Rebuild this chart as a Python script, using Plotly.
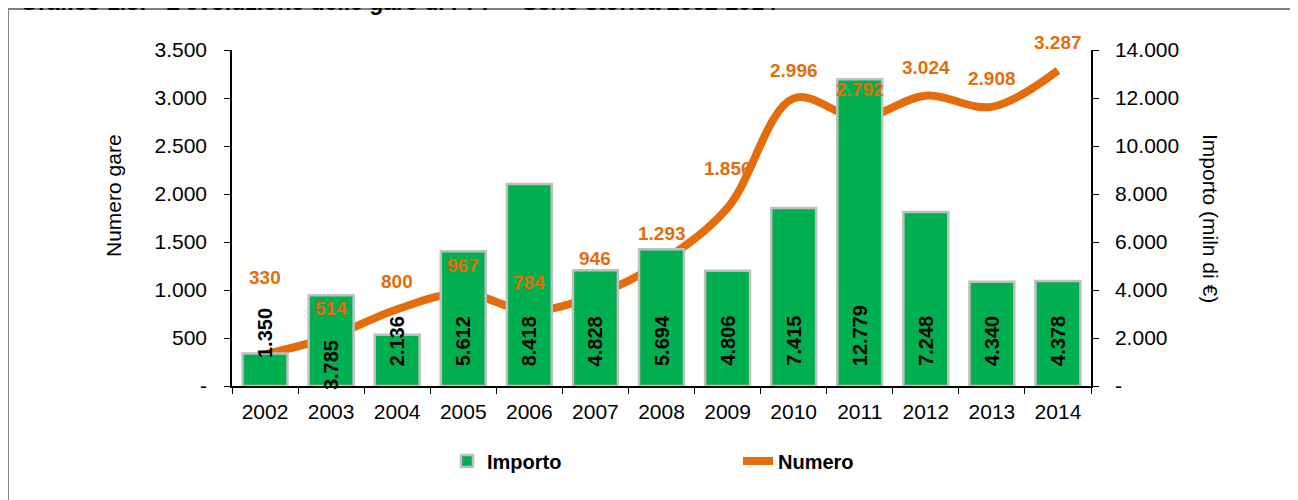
import plotly.graph_objects as go

# ---- data ----
years = ["2002", "2003", "2004", "2005", "2006", "2007", "2008",
         "2009", "2010", "2011", "2012", "2013", "2014"]
importo = [1350, 3785, 2136, 5612, 8418, 4828, 5694, 4806, 7415, 12779, 7248, 4340, 4378]
numero = [330, 514, 800, 967, 784, 946, 1293, 1856, 2996, 2792, 3024, 2908, 3287]

left_tickvals = [0, 500, 1000, 1500, 2000, 2500, 3000, 3500]
right_tickvals = [0, 2000, 4000, 6000, 8000, 10000, 12000, 14000]


def it(v):
    return "-" if v == 0 else f"{v:,}".replace(",", ".")


GREEN = "#00B050"
ORANGE = "#E46C0A"
FONT = "Liberation Sans, Arial, sans-serif"

# label offsets (pixels) -- styling, not data
num_shift_default = 28
num_shift_override = {"2002": 77, "2007": 37, "2009": 39}
imp_shift_default = 18
imp_shift_override = {"2002": 26, "2003": -6}

fig = go.Figure()
fig.add_trace(go.Bar(
    x=years, y=importo, name="Importo", yaxis="y2",
    marker=dict(color=GREEN, line=dict(color="#BFBFBF", width=2.5)),
))
fig.add_trace(go.Scatter(
    x=years, y=numero, name="Numero", yaxis="y", mode="lines",
    line=dict(color=ORANGE, width=8, shape="spline", smoothing=1.0),
))

annotations = []
for i, (yr, v) in enumerate(zip(years, numero)):
    annotations.append(dict(
        x=i, y=v, xref="x", yref="y", text=it(v), showarrow=False,
        yanchor="middle", yshift=num_shift_override.get(yr, num_shift_default),
        font=dict(family=FONT, size=19, color=ORANGE, weight="bold"),
    ))
for i, (yr, v) in enumerate(zip(years, importo)):
    annotations.append(dict(
        x=i, y=0, xref="x", yref="y2", text=it(v), showarrow=False,
        textangle=-90, yanchor="bottom",
        yshift=imp_shift_override.get(yr, imp_shift_default),
        font=dict(family=FONT, size=20, color="black", weight="bold"),
    ))
annotations.append(dict(
    x=0, y=0.5, xref="paper", yref="paper", text="Numero gare", showarrow=False,
    textangle=-90, xanchor="center", yanchor="middle", xshift=-119, yshift=22,
    font=dict(family=FONT, size=21, color="black"),
))
annotations.append(dict(
    x=1, y=0.5, xref="paper", yref="paper", text="Importo (miln di €)", showarrow=False,
    textangle=90, xanchor="center", yanchor="middle", xshift=120, yshift=0,
    font=dict(family=FONT, size=21, color="black"),
))
annotations.append(dict(
    x=0, y=1, xref="paper", yref="paper",
    text="Grafico 1.3:\u00a0\u00a0\u00a0L'evoluzione delle gare di PPP \u2013 Serie storica 2002-2014",
    showarrow=False, xanchor="left", yanchor="bottom", xshift=-214, yshift=33,
    font=dict(family=FONT, size=23, color="black", weight="bold"),
))

fig.update_layout(
    width=1298, height=500,
    margin=dict(l=224, r=215, t=42, b=122, autoexpand=False),
    paper_bgcolor="white", plot_bgcolor="white",
    font=dict(family=FONT, size=20, color="black"),
    bargap=0.32,
    showlegend=True,
    legend=dict(orientation="h", x=0.2503, xanchor="left", y=-0.223, yanchor="middle",
                font=dict(family=FONT, size=20, color="black", weight="bold"),
                entrywidth=246, bgcolor="rgba(0,0,0,0)"),
    xaxis=dict(type="category", range=[-0.5, len(years) - 0.5],
               showline=True, linecolor="black", linewidth=1.5,
               ticks="outside", ticklen=6, tickcolor="black", tickson="boundaries",
               ticklabelstandoff=6, tickangle=0, showgrid=False, zeroline=False,
               tickfont=dict(size=21)),
    yaxis=dict(range=[0, 3500], tickvals=left_tickvals, ticktext=[it(v) for v in left_tickvals],
               showline=True, linecolor="black", linewidth=1.5, ticks="outside", ticklen=6,
               tickcolor="black", ticklabelstandoff=13, showgrid=False, zeroline=False,
               tickfont=dict(size=21)),
    yaxis2=dict(range=[0, 14000], tickvals=right_tickvals, ticktext=[it(v) for v in right_tickvals],
                overlaying="y", side="right", showline=True, linecolor="black", linewidth=1.5,
                ticks="outside", ticklen=6, tickcolor="black", ticklabelstandoff=12,
                showgrid=False, zeroline=False, tickfont=dict(size=21)),
    annotations=annotations,
    shapes=[dict(type="rect", xref="paper", yref="paper",
                 x0=-0.2608, y0=-0.6, x1=1.3, y1=1.122,
                 line=dict(color="#808080", width=2), fillcolor="rgba(0,0,0,0)", layer="below")],
)

fig.write_html("out.html")
